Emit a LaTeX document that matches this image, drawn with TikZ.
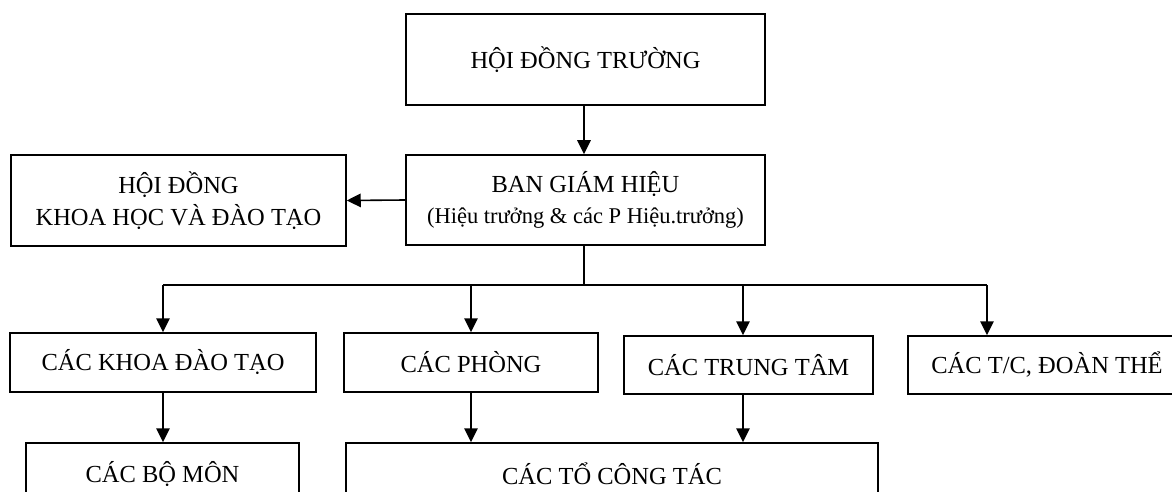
\documentclass[tikz,border=0pt]{standalone}
\usepackage{fontspec}
\setmainfont{Liberation Serif}
\usetikzlibrary{arrows.meta}
\begin{document}
\begin{tikzpicture}[x=1pt,y=-1pt,
  box/.style={draw=black, line width=1.5pt, rectangle, inner sep=0pt, align=center,
    font=\fontsize{24.5}{32}\selectfont},
  conn/.style={line width=1.6pt},
  arr/.style={line width=1.6pt, -{Triangle[length=14pt,width=13.5pt]}}]
\useasboundingbox (0,0) rectangle (1172,492);
\clip (0,0) rectangle (1172,492);
% top
\node[box, minimum width=359pt, minimum height=91pt] (hdt) at (585.5,59.5) {HỘI ĐỒNG TRƯỜNG};
\node[box, minimum width=359pt, minimum height=90pt] (bgh) at (585.5,200)
  {BAN GIÁM HIỆU\\[-1pt]{\fontsize{22.5}{27}\selectfont (Hiệu trưởng \& các P Hiệu.trưởng)}};
\node[box, minimum width=335pt, minimum height=91pt] (hdkh) at (178.5,200.5)
  {HỘI ĐỒNG\\KHOA HỌC VÀ ĐÀO TẠO};
% row 2
\node[box, minimum width=306pt, minimum height=59pt] (khoa) at (163,362.5) {CÁC KHOA ĐÀO TẠO};
\node[box, minimum width=254pt, minimum height=59pt] (phong) at (471,362.5) {CÁC PHÒNG};
\node[box, minimum width=249pt, minimum height=58pt] (ttam) at (748.5,365) {CÁC TRUNG TÂM};
\node[box, minimum width=278pt, minimum height=58pt] (tc) at (1047,365) {CÁC T/C, ĐOÀN THỂ};
% row 3
\node[box, minimum width=273pt, minimum height=62pt] (bomon) at (162.5,474) {CÁC BỘ MÔN};
\node[box, minimum width=532pt, minimum height=62pt] (tocongtac) at (612,474) {CÁC TỔ CÔNG TÁC};
% junctions
\coordinate (jm) at (584,285);
\coordinate (j1) at (163,285);
\coordinate (j2) at (471,285);
\coordinate (j3) at (743,285);
\coordinate (j4) at (987,285);
% connectors
\draw[arr] (hdt.south -| jm) -- (bgh.north -| jm);
\draw[arr] (bgh.west) -- (hdkh.east);
\draw[conn] (bgh.south -| jm) -- (jm);
\draw[conn] (j1) -- (j4);
\draw[arr] (j1) -- (khoa.north -| j1);
\draw[arr] (j2) -- (phong.north -| j2);
\draw[arr] (j3) -- (ttam.north -| j3);
\draw[arr] (j4) -- (tc.north -| j4);
\draw[arr] (khoa.south -| j1) -- (bomon.north -| j1);
\draw[arr] (phong.south -| j2) -- (tocongtac.north -| j2);
\draw[arr] (ttam.south -| j3) -- (tocongtac.north -| j3);
\end{tikzpicture}
\end{document}
